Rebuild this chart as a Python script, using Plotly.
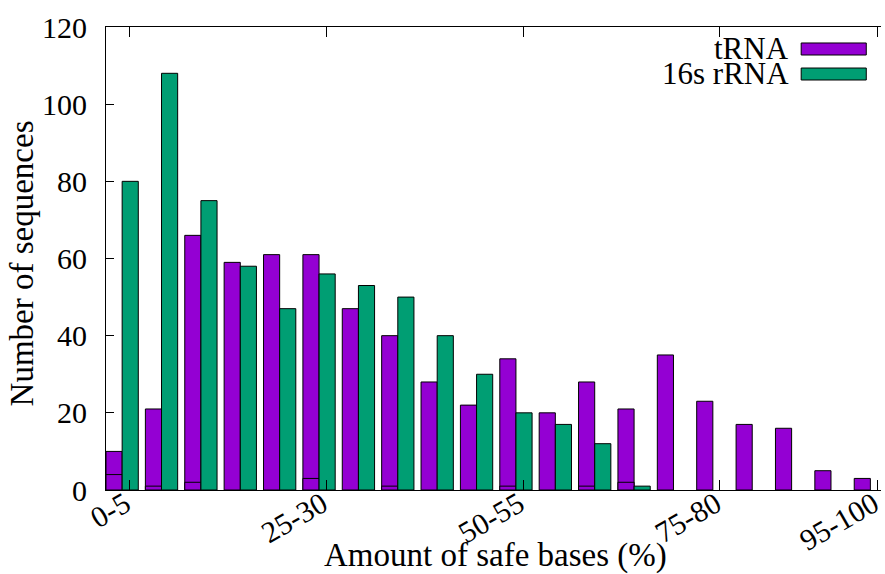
import plotly.graph_objects as go

categories = ["0-5", "5-10", "10-15", "15-20", "20-25", "25-30", "30-35", "35-40",
              "40-45", "45-50", "50-55", "55-60", "60-65", "65-70", "70-75", "75-80",
              "80-85", "85-90", "90-95", "95-100"]
trna = [10, 21, 66, 59, 61, 61, 47, 40, 28, 22, 34, 20, 28, 21, 35, 23, 17, 16, 5, 3]
trna_inner = [4, 1, 2, 0, 0, 3, 0, 1, 0, 0, 1, 0, 1, 2, 0, 0, 0, 0, 0, 0]
rrna16s = [80, 108, 75, 58, 47, 56, 53, 50, 40, 30, 20, 17, 12, 1, 0, 0, 0, 0, 0, 0]
shown_labels = ["0-5", "25-30", "50-55", "75-80", "95-100"]
y_ticks = [0, 20, 40, 60, 80, 100, 120]

PURPLE = "#9400D3"
GREEN = "#009E73"
FONT = "Liberation Serif"
FS = 30
FS_TITLE = 33
BW = 0.41
TICK_SHIFT = 0.18

xs = list(range(len(categories)))


def nz(vals):
    return [v if v else None for v in vals]


fig = go.Figure()
fig.add_trace(go.Bar(x=xs, y=nz(trna), width=BW, offset=-BW,
                     marker=dict(color=PURPLE, line=dict(color="black", width=1)), name="tRNA", showlegend=False))
fig.add_trace(go.Bar(x=xs, y=nz(trna_inner), width=BW, offset=-BW,
                     marker=dict(color=PURPLE, line=dict(color="black", width=1)), name="tRNA", showlegend=False))
fig.add_trace(go.Bar(x=xs, y=nz(rrna16s), width=BW, offset=0,
                     marker=dict(color=GREEN, line=dict(color="black", width=1)), name="16s rRNA", showlegend=False))

tickvals = [categories.index(l) + TICK_SHIFT for l in shown_labels]

fig.update_layout(
    width=885, height=574,
    margin=dict(l=106, r=1, t=27, b=84),
    barmode="overlay",
    plot_bgcolor="white", paper_bgcolor="white",
    font=dict(family=FONT, size=FS, color="black"),
    xaxis=dict(range=[-BW, 19.27], tickvals=tickvals, ticktext=shown_labels, tickangle=-30,
               ticks="inside", ticklen=10, tickcolor="black", showline=True, linecolor="black",
               linewidth=1, mirror="ticks", showgrid=False, zeroline=False,
               ticklabelstandoff=-16, ticklabelshift=-4, ticklabeloverflow="allow",
               tickfont=dict(family=FONT, size=FS)),
    yaxis=dict(range=[0, 120], tickvals=y_ticks, ticks="inside", ticklen=8, tickcolor="black",
               showline=True, linecolor="black", linewidth=1, showgrid=False, zeroline=False,
               ticklabelstandoff=12, tickfont=dict(family=FONT, size=FS)),
)

# axis titles
fig.add_annotation(text="Amount of safe bases (%)", xref="paper", yref="paper", x=0.503, y=-0.1425,
                   showarrow=False, xanchor="center", yanchor="middle", font=dict(family=FONT, size=FS_TITLE))
fig.add_annotation(text="Number of sequences", xref="paper", yref="paper", x=-0.108, y=0.49,
                   textangle=-90, showarrow=False, xanchor="center", yanchor="middle",
                   font=dict(family=FONT, size=FS_TITLE))

# legend (gnuplot style: text left of sample box)
legend_items = [("tRNA", PURPLE, 0.955, 0.9395, 0.9655), ("16s rRNA", GREEN, 0.901, 0.8855, 0.9114)]
for name, col, ty, y0, y1 in legend_items:
    fig.add_annotation(text=name, xref="paper", yref="paper", x=0.8843, y=ty, showarrow=False,
                       xanchor="right", yanchor="middle", height=24, font=dict(family=FONT, size=31))
    fig.add_shape(type="rect", xref="paper", yref="paper", x0=0.897, x1=0.981, y0=y0, y1=y1,
                  fillcolor=col, line=dict(color="black", width=1))

fig.write_html("out.html")
